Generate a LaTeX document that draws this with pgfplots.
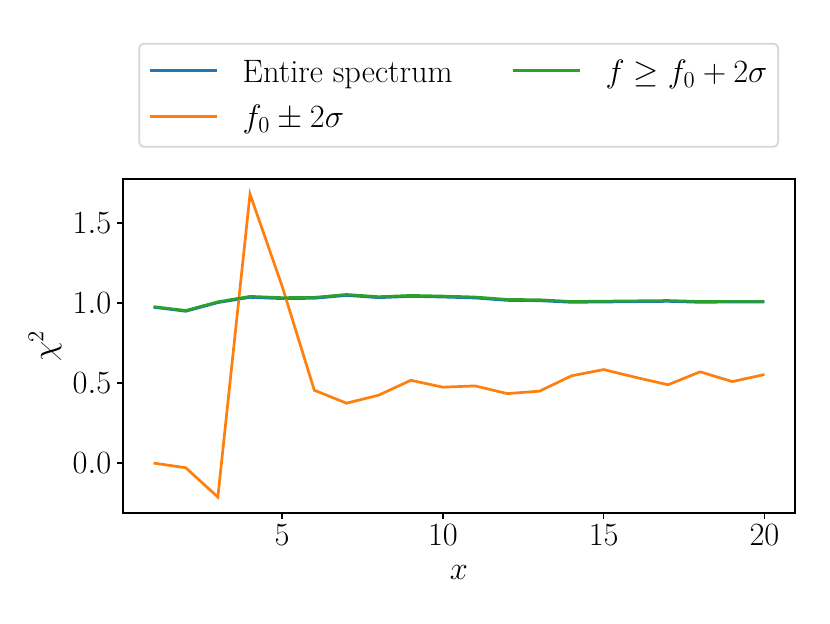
\RequirePackage{fix-cm}
\documentclass[border=0pt]{standalone}
\usepackage{pgfplots}
\pgfplotsset{compat=1.18}
\definecolor{c0}{HTML}{1F77B4}
\definecolor{c1}{HTML}{FF7F0E}
\definecolor{c2}{HTML}{2CA02C}
\definecolor{lgframe}{rgb}{0.84,0.84,0.84}
\pgfplotstableread{
x blue orange green
1 0.973 0.000 0.977
2 0.948 -0.029 0.953
3 1.002 -0.212 1.007
4 1.035 1.680 1.041
5 1.027 1.104 1.033
6 1.029 0.455 1.035
7 1.047 0.374 1.053
8 1.033 0.424 1.039
9 1.041 0.517 1.047
10 1.037 0.474 1.043
11 1.031 0.482 1.037
12 1.016 0.434 1.022
13 1.014 0.449 1.020
14 1.004 0.545 1.009
15 1.006 0.584 1.011
16 1.008 0.535 1.013
17 1.010 0.489 1.015
18 1.004 0.570 1.009
19 1.006 0.509 1.010
20 1.006 0.553 1.010
}\datatable
\begin{document}
\fontsize{18}{22}\selectfont
\begin{tikzpicture}
\begin{axis}[
  at={(0pt,0pt)}, anchor=south west,
  scale only axis, width=372.96pt, height=185.37pt,
  xmin=0.05, xmax=20.95, ymin=-0.3118, ymax=1.774,
  xtick={5,10,15,20}, ytick={0,0.5,1,1.5},
  y tick label style={/pgf/number format/fixed, /pgf/number format/fixed zerofill, /pgf/number format/precision=1},
  tick align=outside, xtick pos=bottom, ytick pos=left,
  major tick length=3.3pt,
  tick style={black, line width=0.8pt},
  axis line style={line width=0.8pt},
  xticklabel style={inner sep=3pt},
  yticklabel style={inner sep=3pt},
  xlabel={$x$}, ylabel={$\chi^2$},
  xlabel style={at={(axis description cs:0.5,-0.1796)}, anchor=center},
  ylabel style={at={(axis description cs:-0.116,0.5)}, anchor=center},
  legend columns=2,
  legend cell align=left,
  legend style={at={(axis description cs:0.0228,1.094)}, anchor=south west,
    inner xsep=5.5pt, inner ysep=0pt, column sep=0pt, row sep=0pt,
    draw=lgframe, line width=1pt, rounded corners=2.5pt,
    nodes={inner sep=0pt, text depth=}},
  legend image code/.code={\draw[#1, line width=1.5pt] (0pt,0pt) -- (37pt,0pt); \path (50.4pt,-16.0pt);},
]
\addlegendimage{c0, line width=1.5pt}
\addlegendentry{\makebox[149.5pt][l]{\smash{Entire spectrum}\rule[-8.3pt]{0pt}{29.8pt}}}
\addlegendimage{c2, line width=1.5pt}
\addlegendentry{\makebox[90.3pt][l]{\smash{$f \geq f_0 + 2\sigma$}\rule[-8.3pt]{0pt}{29.8pt}}}
\addlegendimage{c1, line width=1.5pt}
\addlegendentry{\makebox[149.5pt][l]{\smash{$f_0 \pm 2\sigma$}\rule[-2.7pt]{0pt}{17.6pt}}}
\addplot[c0, line width=1.5pt, forget plot] table[x=x, y=blue] {\datatable};
\addplot[c1, line width=1.5pt, forget plot] table[x=x, y=orange] {\datatable};
\addplot[c2, line width=1.5pt, forget plot] table[x=x, y=green] {\datatable};
\end{axis}
\path (-68.27pt,-61.05pt) rectangle ++(460.65pt,345.77pt);
\end{tikzpicture}
\end{document}
